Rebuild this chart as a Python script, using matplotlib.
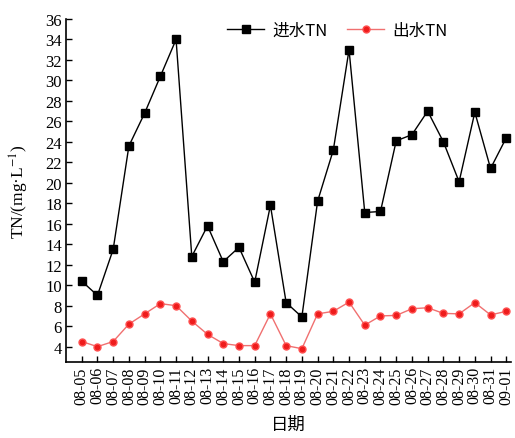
import matplotlib
matplotlib.use("Agg")
import matplotlib.pyplot as plt
import numpy as np

dates = ["08-05", "08-06", "08-07", "08-08", "08-09", "08-10", "08-11", "08-12",
         "08-13", "08-14", "08-15", "08-16", "08-17", "08-18", "08-19", "08-20",
         "08-21", "08-22", "08-23", "08-24", "08-25", "08-26", "08-27", "08-28",
         "08-29", "08-30", "08-31", "09-01"]
inlet_tn = [10.4, 9.0, 13.5, 23.6, 26.8, 30.4, 34.0, 12.8, 15.8, 12.3, 13.7, 10.3,
            17.8, 8.3, 6.9, 18.2, 23.2, 33.0, 17.1, 17.2, 24.1, 24.7, 27.0, 24.0,
            20.1, 26.9, 21.4, 24.4]
outlet_tn = [4.5, 4.0, 4.5, 6.2, 7.2, 8.2, 8.0, 6.5, 5.2, 4.3, 4.1, 4.1,
             7.2, 4.1, 3.8, 7.2, 7.45, 8.35, 6.1, 7.0, 7.05, 7.7, 7.8, 7.25,
             7.2, 8.3, 7.1, 7.45]
y_ticks = list(range(4, 37, 2))

plt.rcParams["mathtext.fontset"] = "stix"
serif = ["Liberation Serif", "Noto Sans CJK SC"]
cjk = ["Noto Sans CJK SC", "Liberation Serif"]

fig = plt.figure(figsize=(5.15, 4.39), dpi=100)
ax = fig.add_axes([66 / 515, 76 / 439, 445 / 515, 343 / 439])

x = np.arange(len(dates))
ax.plot(x, inlet_tn, color="black", lw=1.0, marker="s", ms=5.5,
        label="进水TN")
ax.plot(x, outlet_tn, color="#f07070", lw=1.0, marker="o", ms=5,
        mfc="#ee1c1c", mec="#ff5050", label="出水TN")

ax.set_xlim(-1, 27.3)
ax.set_ylim(2.5, 36)
ax.set_xticks(x)
ax.set_xticklabels(dates, rotation=90, family=serif, fontsize=11.5)
ax.set_yticks(y_ticks)
ax.set_yticklabels([str(v) for v in y_ticks], family=serif, fontsize=12)
ax.tick_params(direction="in", length=4, width=1.0, pad=3)

for side in ("top", "right"):
    ax.spines[side].set_visible(False)
for side in ("left", "bottom"):
    ax.spines[side].set_linewidth(1.2)

ax.set_ylabel("TN/(mg·L$^{-1}$)", family=serif, fontsize=12.5, labelpad=10)
ax.set_xlabel("日期", family=cjk, fontsize=12.5, labelpad=8)

leg = ax.legend(loc="upper center", bbox_to_anchor=(0.61, 1.035), ncol=2,
                frameon=False, prop={"family": cjk, "size": 12},
                handlelength=2.2, columnspacing=1.2, handletextpad=0.5)

fig.savefig("out.png", dpi=100)
